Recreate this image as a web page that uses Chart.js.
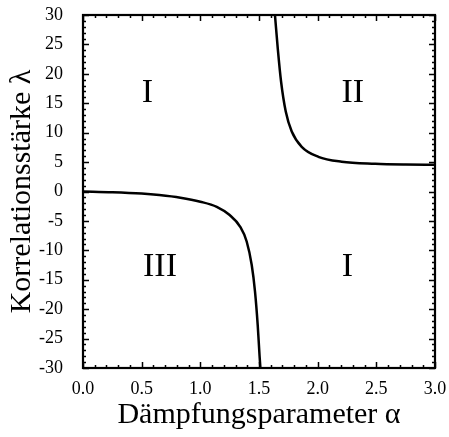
<!DOCTYPE html>
<html>
<head>
<meta charset="utf-8">
<script src="https://cdn.jsdelivr.net/npm/chart.js@4.4.0/dist/chart.umd.min.js"></script>
<style>
  html, body { margin: 0; padding: 0; background: #fff; }
  #wrap { width: 449px; height: 437px; }
</style>
</head>
<body>
<div id="wrap"><canvas id="phaseChart" width="449" height="437"></canvas></div>
<script>
// lower branch (region boundary III / I)
const lowerAlpha = [0, 0.25, 0.5, 0.65, 0.83, 1.0, 1.14, 1.25, 1.34, 1.395, 1.438, 1.466, 1.489, 1.505, 1.512];
const lowerLambda = [0, -0.12, -0.35, -0.6, -1.05, -1.73, -2.6, -4.0, -6.0, -8.5, -12.5, -17, -22.7, -28, -30];
// upper branch (region boundary I / II)
const upperAlpha = [1.636, 1.66, 1.688, 1.728, 1.779, 1.864, 2.006, 2.205, 2.49, 2.75, 3.0];
const upperLambda = [30, 24.3, 18.7, 13.6, 10.2, 7.6, 5.9, 5.07, 4.73, 4.6, 4.55];

const xTicks = [0, 0.5, 1.0, 1.5, 2.0, 2.5, 3.0];
const yTicks = [-30, -25, -20, -15, -10, -5, 0, 5, 10, 15, 20, 25, 30];

const regionText = ["I", "II", "III", "I"];
const regionAlpha = [0.55, 2.3, 0.656, 2.253];
const regionLambda = [16.7, 16.7, -12.9, -12.9];

const serif = "'Liberation Serif', 'DejaVu Serif', serif";

const toPoints = (xs, ys) => xs.map((x, i) => ({ x: x, y: ys[i] }));

// frame, inward ticks on all four sides, region labels
const framePlugin = {
  id: "frame",
  afterDraw(chart) {
    const ctx = chart.ctx;
    const a = chart.chartArea;
    const xs = chart.scales.x, ys = chart.scales.y;
    ctx.save();
    ctx.strokeStyle = "#000";
    ctx.lineWidth = 1.5;
    // x ticks
    for (let i = 0; i <= 30; i++) {
      const v = i / 10;
      const px = Math.round(xs.getPixelForValue(v)) + 0.5;
      const len = i % 5 === 0 ? 6 : 3;
      ctx.beginPath();
      ctx.moveTo(px, a.bottom); ctx.lineTo(px, a.bottom - len);
      ctx.moveTo(px, a.top); ctx.lineTo(px, a.top + len);
      ctx.stroke();
    }
    // y ticks
    for (let v = -30; v <= 30; v++) {
      const py = Math.round(ys.getPixelForValue(v)) + 0.5;
      const len = v % 5 === 0 ? 6 : 3;
      ctx.beginPath();
      ctx.moveTo(a.left, py); ctx.lineTo(a.left + len, py);
      ctx.moveTo(a.right, py); ctx.lineTo(a.right - len, py);
      ctx.stroke();
    }
    ctx.lineWidth = 2.2;
    ctx.strokeRect(a.left, a.top, a.right - a.left, a.bottom - a.top);

    ctx.fillStyle = "#000";
    ctx.font = "34px " + serif;
    ctx.textAlign = "center";
    ctx.textBaseline = "middle";
    regionText.forEach((t, i) => {
      ctx.fillText(t, xs.getPixelForValue(regionAlpha[i]), ys.getPixelForValue(regionLambda[i]));
    });
    ctx.restore();
  }
};

new Chart(document.getElementById("phaseChart"), {
  type: "scatter",
  data: {
    datasets: [
      {
        data: toPoints(lowerAlpha, lowerLambda),
        showLine: true,
        borderColor: "#000",
        borderWidth: 2.5,
        pointRadius: 0,
        cubicInterpolationMode: "monotone"
      },
      {
        data: toPoints(upperAlpha, upperLambda),
        showLine: true,
        borderColor: "#000",
        borderWidth: 2.5,
        pointRadius: 0,
        cubicInterpolationMode: "monotone"
      }
    ]
  },
  options: {
    responsive: false,
    animation: false,
    layout: { padding: { top: 15, right: 14, left: 0, bottom: 0 } },
    plugins: {
      legend: { display: false },
      tooltip: { enabled: false }
    },
    scales: {
      x: {
        type: "linear",
        min: 0, max: 3,
        afterBuildTicks: s => { s.ticks = xTicks.map(v => ({ value: v })); },
        afterFit: s => { s.height = 69; s.paddingLeft = 0; s.paddingRight = 0; },
        grid: { display: false },
        border: { display: false },
        ticks: {
          color: "#000",
          font: { family: serif, size: 18 },
          padding: 2,
          callback: v => v.toFixed(1)
        },
        title: {
          display: true,
          text: "Dämpfungsparameter α",
          color: "#000",
          font: { family: serif, size: 30 },
          padding: { top: 0 }
        }
      },
      y: {
        type: "linear",
        min: -30, max: 30,
        afterBuildTicks: s => { s.ticks = yTicks.map(v => ({ value: v })); },
        afterFit: s => { s.width = 83; s.paddingTop = 0; s.paddingBottom = 0; },
        grid: { display: false },
        border: { display: false },
        ticks: {
          color: "#000",
          font: { family: serif, size: 18 },
          padding: 12,
          callback: v => String(v)
        },
        title: {
          display: true,
          text: "Korrelationsstärke λ",
          color: "#000",
          font: { family: serif, size: 30 },
          padding: { bottom: 0 }
        }
      }
    }
  },
  plugins: [framePlugin]
});
</script>
</body>
</html>
